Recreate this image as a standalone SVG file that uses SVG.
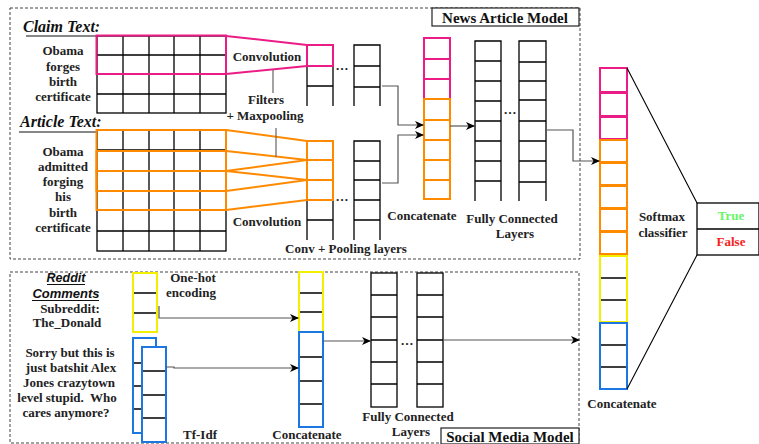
<svg xmlns="http://www.w3.org/2000/svg" width="759" height="444" viewBox="0 0 759 444">
<defs>
<marker id="arr" markerWidth="9" markerHeight="8" refX="8" refY="4" orient="auto" markerUnits="userSpaceOnUse">
<path d="M0,0 L9,4 L0,8 L2.5,4 z" fill="#000"/>
</marker>
<style>
.cell{fill:#fff;stroke:#000;stroke-width:1.3}
.ln{fill:none;stroke:#000;stroke-width:1.3}
.pink{fill:none;stroke:#EC1C86;stroke-width:2}
.orange{fill:none;stroke:#FF8A00;stroke-width:2}
.yellow{fill:none;stroke:#F2F000;stroke-width:2}
.blue{fill:none;stroke:#1C78E0;stroke-width:2}
.frame{fill:none;stroke:#444;stroke-width:1;stroke-dasharray:3 2}
.lbox{fill:#fff;stroke:#222;stroke-width:1.2}
.t{font-family:"Liberation Serif",serif;font-weight:bold;font-size:13px;text-anchor:middle;fill:#222}
.ti{font-family:"Liberation Serif",serif;font-weight:bold;font-style:italic;font-size:16px;fill:#111}
.ta{font-family:"Liberation Sans",Arial,sans-serif;font-weight:bold;font-style:italic;font-size:12.5px;text-anchor:middle;fill:#111}
.lab{font-family:"Liberation Serif",serif;font-weight:bold;font-size:15px;text-anchor:middle;fill:#111}
.conn{fill:none;stroke:#555;stroke-width:1.2;marker-end:url(#arr)}
.gl{fill:none;stroke:#666;stroke-width:1.2}
.ul{stroke:#111;stroke-width:1.2}
</style>
</defs>

<g id="news-frame">
<rect class="frame" x="10" y="8" width="570" height="251"/>
<rect class="lbox" x="432" y="8" width="147" height="18"/>
<text class="lab" x="505" y="23">News Article Model</text>
</g>
<g id="social-frame">
<rect class="frame" x="10" y="272" width="569" height="171"/>
<rect class="lbox" x="441" y="428" width="138" height="16"/>
<text class="lab" x="510" y="442">Social Media Model</text>
</g>

<g id="claim-text">
<text class="ti" x="23" y="32">Claim Text:</text>
<line class="ul" x1="26" y1="36" x2="97" y2="36"/>
<text class="t" x="63" y="55">Obama</text>
<text class="t" x="63" y="71">forges</text>
<text class="t" x="63" y="86">birth</text>
<text class="t" x="63" y="101">certificate</text>
</g>
<g id="claim-grid">
<rect class="cell" x="97" y="36" width="129" height="77"/>
<path class="ln" d="M123,36V113M149,36V113M174,36V113M200,36V113M97,55H226M97,74H226M97,94H226"/>
<rect class="pink" x="96.5" y="35.5" width="129.5" height="38.5"/>
</g>

<g id="article-text">
<text class="ti" x="20" y="127">Article Text:</text>
<line class="ul" x1="19" y1="132" x2="103" y2="132"/>
<text class="t" x="63" y="156">Obama</text>
<text class="t" x="63" y="171">admitted</text>
<text class="t" x="63" y="186">forging</text>
<text class="t" x="63" y="201">his</text>
<text class="t" x="63" y="217">birth</text>
<text class="t" x="63" y="232">certificate</text>
</g>
<g id="article-grid">
<rect class="cell" x="97" y="130" width="129" height="121"/>
<path class="ln" d="M123,130V251M149,130V251M174,130V251M200,130V251M97,150H226M97,171H226M97,191H226M97,210H226M97,231H226"/>
<rect class="orange" x="96.5" y="130" width="129.5" height="41"/>
<rect class="orange" x="96.5" y="151" width="129.5" height="40"/>
<rect class="orange" x="96.5" y="171" width="129.5" height="39"/>
</g>

<g id="claim-conv">
<path class="ln" d="M307,106V45H333V106M307,66H333M307,86H333"/>
<rect class="pink" x="307" y="45" width="26" height="21"/>
<path class="ln" d="M354,106V45H380V106M354,66H380M354,87H380"/>
<text class="t" x="342" y="70">…</text>
</g>
<g id="article-conv">
<path class="ln" d="M307,240V141H333V240M307,160H333M307,180H333M307,200H333M307,220H333"/>
<rect class="orange" x="307" y="141" width="26" height="19"/>
<rect class="orange" x="307" y="160" width="26" height="20"/>
<rect class="orange" x="307" y="180" width="26" height="20"/>
<path class="ln" d="M354,240V141H380V240M354,161H380M354,180H380M354,200H380M354,220H380"/>
<text class="t" x="342" y="201">…</text>
</g>

<g id="filters">
<path class="pink" d="M226,36L307,45M226,74L307,66"/>
<path class="orange" d="M226,130L307,141M226,171L307,160M226,151L307,160M226,191L307,180M226,171L307,180M226,210L307,200"/>
<text class="t" x="267" y="61">Convolution</text>
<text class="t" x="266" y="104">Filters</text>
<text class="t" x="265" y="120">+ Maxpooling</text>
<text class="t" x="267" y="226">Convolution</text>
<text class="t" x="346" y="253">Conv + Pooling layers</text>
<path class="gl" d="M273,70V93M276,128V157"/>
</g>

<g id="news-concat">
<rect class="pink" x="424" y="38" width="26" height="21"/>
<rect class="pink" x="424" y="59" width="26" height="20"/>
<rect class="pink" x="424" y="79" width="26" height="20"/>
<rect class="orange" x="424" y="99" width="26" height="21"/>
<rect class="orange" x="424" y="120" width="26" height="20"/>
<rect class="orange" x="424" y="140" width="26" height="20"/>
<rect class="orange" x="424" y="160" width="26" height="20"/>
<rect class="orange" x="424" y="180" width="26" height="19"/>
<text class="t" x="422" y="220">Concatenate</text>
</g>

<g id="news-fc">
<path class="ln" d="M475,201V41H501V201M475,61H501M475,81H501M475,101H501M475,121H501M475,141H501M475,161H501M475,181H501"/>
<path class="ln" d="M519,201V41H546V201M519,62H546M519,81H546M519,100H546M519,121H546M519,141H546M519,161H546M519,182H546"/>
<text class="t" x="510" y="114">…</text>
<text class="t" x="512" y="223">Fully Connected</text>
<text class="t" x="515" y="238">Layers</text>
</g>

<g id="final-concat">
<rect class="pink" x="600" y="68" width="27" height="24"/>
<rect class="pink" x="600" y="93" width="27" height="23"/>
<rect class="pink" x="600" y="117" width="27" height="22"/>
<rect class="orange" x="600" y="140" width="27" height="22"/>
<rect class="orange" x="600" y="163" width="27" height="22"/>
<rect class="orange" x="600" y="186" width="27" height="22"/>
<rect class="orange" x="600" y="209" width="27" height="22"/>
<rect class="orange" x="600" y="232" width="27" height="22"/>
<rect class="cell" x="600" y="256" width="27" height="66"/>
<path class="ln" d="M600,278H627M600,300H627"/>
<rect class="yellow" x="600" y="256" width="27" height="66"/>
<rect class="cell" x="600" y="323" width="27" height="66"/>
<path class="ln" d="M600,345H627M600,367H627"/>
<rect class="blue" x="600" y="323" width="27" height="66"/>
<text class="t" x="622" y="408">Concatenate</text>
</g>

<g id="softmax">
<path class="ln" d="M627,68L697,203M697,255L627,389" style="stroke-width:1.1"/>
<rect class="cell" x="697" y="203" width="62" height="52"/>
<line class="ln" x1="697" y1="229" x2="759" y2="229"/>
<text class="t" x="662" y="221">Softmax</text>
<text class="t" x="663" y="237">classifier</text>
<text class="t" x="731" y="220" style="fill:#66F566">True</text>
<text class="t" x="731" y="246" style="fill:#F52222">False</text>
</g>

<g id="reddit-text">
<text class="ta" x="66" y="282">Reddit</text>
<line class="ul" x1="47" y1="284.5" x2="85" y2="284.5"/>
<text class="ta" x="66" y="298" style="font-size:13px">Comments</text>
<line class="ul" x1="32" y1="300.5" x2="99" y2="300.5"/>
<text class="t" x="70" y="313">Subreddit:</text>
<text class="t" x="67" y="327">The_Donald</text>
<text class="t" x="70" y="357">Sorry but this is</text>
<text class="t" x="71" y="372">just batshit Alex</text>
<text class="t" x="69" y="387">Jones crazytown</text>
<text class="t" x="67" y="402" style="white-space:pre">level stupid.  Who</text>
<text class="t" x="66" y="417">cares anymore?</text>
</g>

<g id="onehot">
<rect class="cell" x="133" y="273" width="24" height="59"/>
<path class="ln" d="M133,293H157M133,313H157"/>
<rect class="yellow" x="133" y="273" width="24" height="59"/>
<text class="t" x="193" y="282">One-hot</text>
<text class="t" x="191" y="297">encoding</text>
</g>

<g id="tfidf">
<rect class="cell" x="133" y="338" width="23" height="95"/>
<path class="ln" d="M133,363H142M133,386H142M133,409H142"/>
<rect class="blue" x="133" y="338" width="23" height="95"/>
<rect class="cell" x="142" y="347" width="24" height="95"/>
<path class="ln" d="M142,371H166M142,395H166M142,418H166"/>
<rect class="blue" x="142" y="347" width="24" height="95"/>
<text class="t" x="200" y="439">Tf-Idf</text>
</g>

<g id="social-concat">
<rect class="cell" x="299" y="272" width="24" height="60"/>
<path class="ln" d="M299,293H323M299,312H323"/>
<rect class="yellow" x="299" y="272" width="24" height="60"/>
<rect class="cell" x="299" y="332" width="24" height="95"/>
<path class="ln" d="M299,357H323M299,381H323M299,404H323"/>
<rect class="blue" x="299" y="332" width="24" height="95"/>
<text class="t" x="307" y="439">Concatenate</text>
</g>

<g id="social-fc">
<rect class="cell" x="371" y="273" width="26" height="134"/>
<path class="ln" d="M371,295H397M371,317H397M371,340H397M371,362H397M371,384H397"/>
<rect class="cell" x="417" y="273" width="26" height="134"/>
<path class="ln" d="M417,295H443M417,317H443M417,340H443M417,362H443M417,384H443"/>
<text class="t" x="407" y="345">…</text>
<text class="t" x="408" y="421">Fully Connected</text>
<text class="t" x="411" y="436">Layers</text>
</g>

<g id="connectors">
<path class="conn" d="M382,86H398V125H423"/>
<path class="conn" d="M382,183H398V135H423"/>
<path class="conn" d="M450,126H474"/>
<path class="conn" d="M546,130H573V161H599"/>
<path class="conn" d="M159,306V318H298"/>
<path class="conn" d="M166,367H174V368H298"/>
<path class="conn" d="M323,341H370"/>
<path class="conn" d="M443,340H579"/>
</g>
</svg>
